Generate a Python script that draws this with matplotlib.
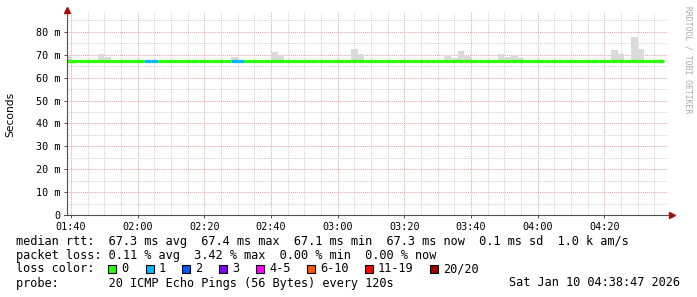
import matplotlib
matplotlib.use("Agg")
import matplotlib.pyplot as plt
from matplotlib.patches import Rectangle
from matplotlib.ticker import FuncFormatter, MultipleLocator
import numpy as np

# 2-minute steps, minutes after midnight (01:38 .. 04:36)
t_start = 98
step = 2
n_steps = 90
times = t_start + step * np.arange(n_steps)

# median rtt per step (ms)
hi, lo, mid = 67.45, 67.15, 67.3
median = ([hi, lo, hi, hi, lo, lo, lo, lo, hi, hi,
           lo, lo, mid, mid, lo, lo, lo, hi, hi, lo,
           lo, lo, lo, lo, lo, mid, mid, lo, hi, lo,
           lo, lo, lo, lo, lo, lo, lo, lo, hi, hi,
           lo, lo, lo, lo, lo, hi, hi, lo, lo, hi,
           hi, lo, lo, hi, hi, lo, lo, hi, lo, lo,
           lo, lo, hi, hi, hi, lo, lo, lo, lo, lo,
           lo, lo, lo, hi, lo, lo, lo, hi, lo, lo,
           lo, lo, lo, lo, lo, lo, lo, lo, hi, lo])

# highest ping per step (ms) -> smoke
smoke_top = [67.6] * n_steps
for k, v in {0: 69.5, 5: 70.3, 6: 69.0, 25: 69.1, 31: 71.2, 32: 69.5,
             43: 72.5, 44: 70.2, 57: 69.5, 58: 68.6, 59: 71.6, 60: 69.5,
             65: 70.5, 66: 69.1, 67: 69.6, 68: 68.8, 82: 72.0, 83: 70.2,
             85: 77.9, 86: 72.5}.items():
    smoke_top[k] = v

# lost pings per step (of 20)
loss = [0] * n_steps
for k in [12, 13, 25, 26]:
    loss[k] = 1

loss_labels = ['0', '1', '2', '3', '4-5', '6-10', '11-19', '20/20']
loss_colors = ['#26ff00', '#00b8ff', '#0059ff', '#7e00ff', '#ff00ff',
               '#ff5500', '#ff0000', '#a00000']
loss_bins = [0, 1, 2, 3, 5, 10, 19, 20]

mono = 'DejaVu Sans Mono'
W, H = 697, 297

fig = plt.figure(figsize=(W / 100, H / 100), dpi=100)
fig.patch.set_facecolor('white')
ax = fig.add_axes([67 / W, (H - 215) / H, 600 / W, 203 / H])
ax.set_xlim(98.783, 278.783)
ax.set_ylim(0, 88.7)

for s in ax.spines.values():
    s.set_visible(False)

# grid
ax.xaxis.set_major_locator(MultipleLocator(20))
ax.xaxis.set_minor_locator(MultipleLocator(5))
ax.yaxis.set_major_locator(MultipleLocator(10))
ax.yaxis.set_minor_locator(MultipleLocator(5))
ax.grid(which='minor', color='#cfcfcf', linestyle=(0, (1, 1)), linewidth=0.7)
ax.grid(which='major', color='#e8a0a0', linestyle=(0, (1, 1)), linewidth=0.7)
ax.set_axisbelow(True)

# smoke
for t, m, top in zip(times, median, smoke_top):
    if top > m:
        ax.bar(t, top - m, bottom=m, width=step, align='edge',
               color='#dadada', linewidth=0, zorder=2)

# median line coloured by loss
def loss_color(n):
    for b, c in zip(loss_bins, loss_colors):
        if n <= b:
            return c
    return loss_colors[-1]

for t, m, n in zip(times, median, loss):
    ax.plot([t, t + step], [m, m], color=loss_color(n), linewidth=2.3,
            solid_capstyle='butt', zorder=3)

# axis lines with arrows
ax.plot([0, 0], [0, 1.0], color='#505050', linewidth=0.8,
        transform=ax.transAxes, clip_on=False, zorder=4)
ax.plot([-3 / 600, 1.008], [0, 0], color='#505050', linewidth=0.8,
        transform=ax.transAxes, clip_on=False, zorder=4)
ax.plot([0], [1.012], marker='^', markersize=4, color='#a01010',
        transform=ax.transAxes, clip_on=False, zorder=5)
ax.plot([1.008], [0], marker='>', markersize=4, color='#a01010',
        transform=ax.transAxes, clip_on=False, zorder=5)

ax.xaxis.set_major_formatter(FuncFormatter(
    lambda v, p: f"{int(v) // 60:02d}:{int(v) % 60:02d}"))
ax.yaxis.set_major_formatter(FuncFormatter(
    lambda v, p: "0" if v == 0 else f"{int(v)} m"))
ax.tick_params(which='major', length=2, width=0.7, color='#505050',
               labelsize=7.3, pad=3)
ax.tick_params(which='minor', length=0)
for lab in ax.get_xticklabels() + ax.get_yticklabels():
    lab.set_family(mono)

fig.text(10 / W, 1 - 114 / H, 'Seconds', rotation=90, ha='center',
         va='center', fontsize=7.7, family='DejaVu Sans')
fig.text(688 / W, 1 - 60 / H, 'RRDTOOL / TOBI OETIKER', rotation=270,
         ha='center', va='center', fontsize=5.8, color='#aaaaaa', family=mono)

# legend
fs = 8.55
lines = [
    (241, 'median rtt:  67.3 ms avg  67.4 ms max  67.1 ms min  67.3 ms now  0.1 ms sd  1.0 k am/s'),
    (255, 'packet loss: 0.11 % avg  3.42 % max  0.00 % min  0.00 % now'),
    (269, 'loss color:'),
    (283, 'probe:       20 ICMP Echo Pings (56 Bytes) every 120s'),
]
for y, s in lines:
    fig.text(16 / W, 1 - y / H, s, ha='left', va='center', fontsize=fs,
             family=mono)
fig.text(680 / W, 1 - 283 / H, 'Sat Jan 10 04:38:47 2026', ha='right',
         va='center', fontsize=fs, family=mono)

box_x = [108, 146, 182, 219, 256, 307, 365, 430]
for bx, lab, col in zip(box_x, loss_labels, loss_colors):
    fig.add_artist(Rectangle((bx / W, 1 - 273 / H), 8 / W, 8 / H,
                             transform=fig.transFigure, facecolor=col,
                             edgecolor='black', linewidth=0.8))
    fig.text((bx + 13) / W, 1 - 269 / H, lab, ha='left', va='center',
             fontsize=fs, family=mono)

fig.savefig('out.png', dpi=100, facecolor='white')
